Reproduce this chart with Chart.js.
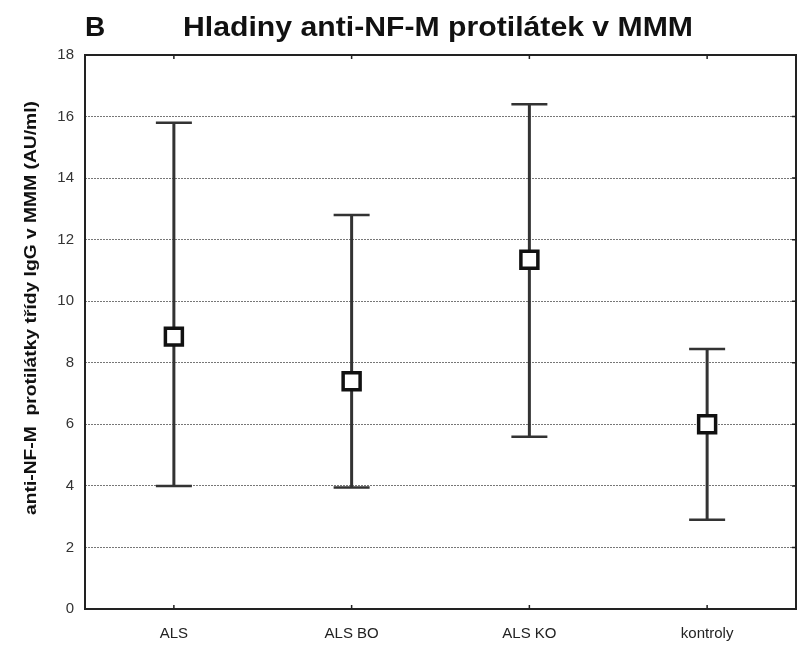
<!DOCTYPE html>
<html>
<head>
<meta charset="utf-8">
<script src="https://cdn.jsdelivr.net/npm/chart.js@4"></script>
<style>
  html, body { margin: 0; padding: 0; background: #fff; overflow: hidden; }
  #wrap { width: 798px; height: 646px; }
  canvas { display: block; }
</style>
</head>
<body>
<div id="wrap"><canvas id="chart" width="798" height="646"></canvas></div>
<script>
// skupiny a hodnoty (průměr, dolní a horní mez)
const groups = ['ALS', 'ALS BO', 'ALS KO', 'kontroly'];
const means = [8.85, 7.4, 11.35, 6.0];
const lows = [4.0, 3.95, 5.6, 2.9];
const highs = [15.8, 12.8, 16.4, 8.45];
const yTicks = [0, 2, 4, 6, 8, 10, 12, 14, 16, 18];

const FONT = '"Liberation Sans", Arial, sans-serif';

// text roztažený na danou šířku
function fitText(ctx, text, x, y, width) {
  const w = ctx.measureText(text).width;
  ctx.save();
  ctx.translate(x, y);
  ctx.scale(width / w, 1);
  ctx.fillText(text, 0, 0);
  ctx.restore();
}

// chybové úsečky pod body
const errorBars = {
  id: 'errorBars',
  beforeDatasetsDraw(chart) {
    const ctx = chart.ctx;
    const x = chart.scales.x, y = chart.scales.y;
    ctx.save();
    ctx.strokeStyle = '#333';
    groups.forEach((g, i) => {
      const px = x.getPixelForValue(i);
      const top = y.getPixelForValue(highs[i]);
      const bot = y.getPixelForValue(lows[i]);
      ctx.lineWidth = 3;
      ctx.beginPath();
      ctx.moveTo(px, top);
      ctx.lineTo(px, bot);
      ctx.stroke();
      ctx.lineWidth = 2.5;
      ctx.beginPath();
      ctx.moveTo(px - 18, top);
      ctx.lineTo(px + 18, top);
      ctx.moveTo(px - 18, bot);
      ctx.lineTo(px + 18, bot);
      ctx.stroke();
    });
    ctx.restore();
  }
};

// rámeček, vnitřní značky a nadpisy
const frame = {
  id: 'frame',
  afterDraw(chart) {
    const ctx = chart.ctx;
    const a = chart.chartArea;
    const x = chart.scales.x, y = chart.scales.y;
    ctx.save();
    ctx.strokeStyle = '#222';
    ctx.lineWidth = 2;
    ctx.strokeRect(a.left, a.top, a.right - a.left, a.bottom - a.top);
    ctx.lineWidth = 1.5;
    ctx.beginPath();
    groups.forEach((g, i) => {
      const px = x.getPixelForValue(i);
      ctx.moveTo(px, a.top);
      ctx.lineTo(px, a.top + 4);
      ctx.moveTo(px, a.bottom);
      ctx.lineTo(px, a.bottom - 4);
    });
    yTicks.forEach(v => {
      const py = y.getPixelForValue(v);
      ctx.moveTo(a.right, py);
      ctx.lineTo(a.right - 4, py);
    });
    ctx.stroke();

    ctx.fillStyle = '#111';
    ctx.textBaseline = 'middle';
    ctx.font = 'bold 28px ' + FONT;
    ctx.textAlign = 'left';
    ctx.fillText('B', 85, 28);
    ctx.textAlign = 'center';
    fitText(ctx, 'Hladiny anti-NF-M protilátek v MMM', 438, 28, 510);

    ctx.translate(32, 308);
    ctx.rotate(-Math.PI / 2);
    ctx.font = 'bold 16px ' + FONT;
    fitText(ctx, 'anti-NF-M  protilátky třídy IgG v MMM (AU/ml)', 0, 0, 414);
    ctx.restore();
  }
};

const ctx = document.getElementById('chart').getContext('2d');
const config = {
  type: 'line',
  data: {
    labels: groups,
    datasets: [{
      data: means,
      showLine: false,
      pointStyle: 'rect',
      pointRadius: 12,
      pointHoverRadius: 12,
      pointBackgroundColor: '#fff',
      pointBorderColor: '#111',
      pointBorderWidth: 3.5
    }]
  },
  options: {
    responsive: false,
    animation: false,
    layout: { autoPadding: false, padding: { top: 55, right: 2, left: 0, bottom: 0 } },
    plugins: {
      legend: { display: false },
      title: { display: false },
      tooltip: { enabled: false }
    },
    scales: {
      x: {
        type: 'category',
        offset: true,
        grid: { display: false, drawTicks: false },
        border: { display: false },
        ticks: { color: '#222', font: { family: FONT, size: 15 }, padding: 16 },
        afterFit(s) { s.height = 37; }
      },
      y: {
        min: 0,
        max: 18,
        afterBuildTicks(s) { s.ticks = yTicks.map(v => ({ value: v })); },
        grid: {
          drawTicks: false,
          color: c => (c.tick.value === 0 || c.tick.value === 18) ? 'rgba(0,0,0,0)' : '#777',
          lineWidth: 1
        },
        border: { display: false, dash: [2, 1] },
        ticks: { color: '#333', font: { family: FONT, size: 15 }, padding: 11 },
        afterFit(s) { s.width = 85; }
      }
    }
  },
  plugins: [errorBars, frame]
};
new Chart(ctx, config);
</script>
</body>
</html>
